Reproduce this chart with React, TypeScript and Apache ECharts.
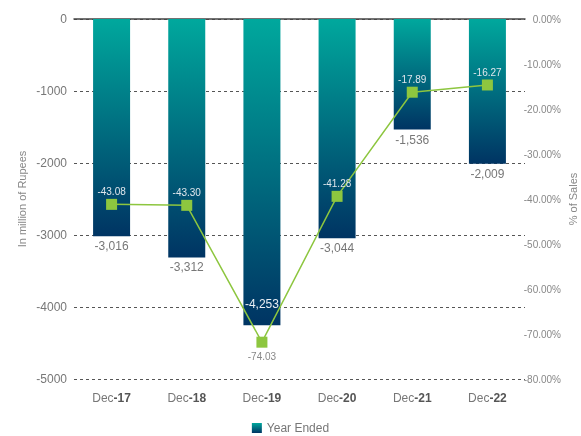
import React, { useEffect, useRef } from "react";
import * as echarts from "echarts";

const categories = ["Dec-17", "Dec-18", "Dec-19", "Dec-20", "Dec-21", "Dec-22"];
const lossValues = [-3016, -3312, -4253, -3044, -1536, -2009];
const pctOfSales = [-43.08, -43.3, -74.03, -41.28, -17.89, -16.27];
const leftTicks = { min: -5000, max: 0, interval: 1000 };
const rightTicks = { min: -80, max: 0, interval: 10 };

const FONT = "'Liberation Sans', Arial, sans-serif";
const GREEN = "#8dc63f";

const barGradient = () =>
  new echarts.graphic.LinearGradient(0, 0, 0, 1, [
    { offset: 0, color: "#00a89d" },
    { offset: 1, color: "#003463" },
  ]);

export default function App() {
  const ref = useRef<HTMLDivElement>(null);

  useEffect(() => {
    if (!ref.current) return;
    const chart = echarts.init(ref.current, null, { renderer: "svg" });

    const barData = lossValues.map((v, i) =>
      i === 2
        ? {
            value: v,
            label: {
              position: "insideBottom",
              distance: 15,
              color: "#e8eef4",
            },
          }
        : v
    );

    const lineData = pctOfSales.map((v, i) =>
      i === 2
        ? { value: v, label: { position: "bottom", distance: 4, color: "#888" } }
        : v
    );

    chart.setOption({
      animation: false,
      textStyle: { fontFamily: FONT },
      grid: {
        left: 74,
        right: 56,
        top: 19,
        bottom: 57,
        containLabel: false,
        outerBoundsMode: "none",
      },
      legend: {
        bottom: 2,
        left: "center",
        padding: [0, 5],
        itemWidth: 10,
        itemHeight: 10,
        itemGap: 6,
        icon: "rect",
        data: ["Year Ended"],
        textStyle: { color: "#777", fontSize: 12, fontFamily: FONT },
      },
      xAxis: [
        {
          type: "category",
          data: categories,
          position: "bottom",
          axisLine: { show: false },
          axisTick: { show: false },
          axisLabel: {
            interval: 0,
            margin: 13,
            formatter: (s: string) => {
              const [m, y] = s.split("-");
              return `{a|${m}}{b|-${y}}`;
            },
            rich: {
              a: { color: "#777", fontSize: 12, fontFamily: FONT },
              b: { color: "#555", fontSize: 12, fontWeight: "bold", fontFamily: FONT },
            },
          },
        },
        {
          type: "category",
          data: categories,
          position: "top",
          axisLine: { show: true, onZero: false, lineStyle: { color: "#444", width: 1.5 } },
          axisTick: { show: false },
          axisLabel: { show: false },
        },
      ],
      yAxis: [
        {
          type: "value",
          position: "left",
          ...leftTicks,
          name: "In million of Rupees",
          nameLocation: "middle",
          nameGap: 47,
          nameMoveOverlap: false,
          nameTextStyle: { color: "#888", fontSize: 11, fontFamily: FONT },
          axisLine: { show: false },
          axisTick: { show: false },
          axisLabel: {
            color: "#777",
            fontSize: 12,
            margin: 7,
            formatter: (v: number) => String(v),
          },
          splitLine: { lineStyle: { color: "#555", type: [3, 3], width: 1 } },
        },
        {
          type: "value",
          position: "right",
          ...rightTicks,
          name: "% of Sales",
          nameLocation: "middle",
          nameGap: 42,
          nameMoveOverlap: false,
          nameTextStyle: { color: "#888", fontSize: 11, fontFamily: FONT },
          axisLine: { show: false },
          axisTick: { show: false },
          splitLine: { show: false },
          axisLabel: {
            color: "#888",
            fontSize: 10,
            margin: 36,
            align: "right",
            formatter: (v: number) => `${v.toFixed(2)}%`,
          },
        },
        {
          type: "value",
          position: "right",
          show: false,
          min: -82.3,
          max: -1.45,
          splitLine: { show: false },
        },
      ],
      series: [
        {
          name: "Year Ended",
          type: "bar",
          xAxisIndex: 0,
          yAxisIndex: 0,
          barWidth: 37,
          data: barData,
          itemStyle: { color: barGradient() },
          label: {
            show: true,
            position: "bottom",
            distance: 4,
            color: "#777",
            fontSize: 12,
            fontFamily: FONT,
            formatter: (p: any) => Number(p.value).toLocaleString("en-US"),
          },
        },
        {
          name: "% of Sales",
          type: "line",
          xAxisIndex: 0,
          yAxisIndex: 2,
          data: lineData,
          symbol: "rect",
          symbolSize: 11,
          lineStyle: { color: GREEN, width: 1.5 },
          itemStyle: { color: GREEN },
          label: {
            show: true,
            position: "top",
            distance: 2,
            color: "#dfe6ec",
            fontSize: 10,
            fontFamily: FONT,
            formatter: (p: any) => Number(p.value).toFixed(2),
          },
          z: 5,
        },
      ],
    });

    return () => chart.dispose();
  }, []);

  return (
    <div
      ref={ref}
      style={{ position: "fixed", left: 0, top: 0, width: 581, height: 436 }}
    />
  );
}
